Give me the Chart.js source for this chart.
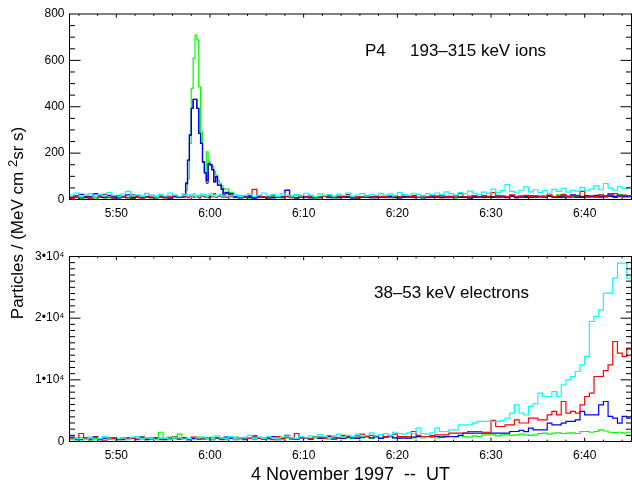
<!DOCTYPE html>
<html>
<head>
<meta charset="utf-8">
<script src="https://cdn.jsdelivr.net/npm/chart.js@4.4.1/dist/chart.umd.min.js"></script>
<style>
  body { margin: 0; background: #fff; width: 632px; height: 487px; position: relative; overflow: hidden;
         font-family: "Liberation Sans", Arial, sans-serif; color: #000; }
  #ionBox { position: absolute; left: 0; top: 0; width: 632px; height: 232px; }
  #elecBox { position: absolute; left: 0; top: 232px; width: 632px; height: 255px; }
  #yTitle { position: absolute; left: -142px; top: 212px; width: 320px; height: 22px; line-height: 22px;
            text-align: center; font-size: 17px; transform: rotate(-90deg); white-space: pre; }
  #yTitle sup { font-size: 13px; vertical-align: 6px; line-height: 0; }
  #xTitle { position: absolute; left: 69.5px; width: 562px; top: 464px; text-align: center;
            font-size: 18px; white-space: pre; }
</style>
</head>
<body>
<div id="ionBox"><canvas id="ionChart" width="632" height="232"></canvas></div>
<div id="elecBox"><canvas id="elecChart" width="632" height="255"></canvas></div>
<div id="yTitle">Particles / (MeV cm <sup>2</sup>sr s)</div>
<div id="xTitle">4 November 1997  --  UT</div>

<script>
// ---- time axis (minutes after 5:00 UT) ----
const timeTicks = [50, 60, 70, 80, 90, 100];
const timeLabels = ["5:50", "6:00", "6:10", "6:20", "6:30", "6:40"];

// ---- P4 ions, 193-315 keV (bin start times, finer bins around the burst) ----
const ionMinutes = [
  45, 45.5, 46, 46.5, 47, 47.5, 48, 48.5, 49, 49.5, 50, 50.5, 51, 51.5, 52, 52.5, 53, 53.5, 54, 54.5,
  55, 55.5, 56, 56.5, 57,
  57.2, 57.4, 57.6, 57.8, 58, 58.2, 58.4, 58.6, 58.8, 59, 59.2, 59.4, 59.6, 59.8, 60, 60.2, 60.4, 60.6,
  60.8, 61, 61.2, 61.4,
  61.6,
  62, 62.5, 63, 63.5, 64, 64.5, 65, 65.5, 66, 66.5, 67,
  67.5, 68, 68.5, 69, 69.5, 70, 70.5, 71, 71.5, 72, 72.5,
  73, 73.5, 74, 74.5, 75, 75.5, 76, 76.5, 77, 77.5, 78,
  78.5, 79, 79.5, 80, 80.5, 81, 81.5, 82, 82.5, 83, 83.5,
  84, 84.5, 85, 85.5, 86, 86.5, 87, 87.5, 88, 88.5, 89,
  89.5, 90, 90.5, 91, 91.5, 92, 92.5, 93, 93.5, 94, 94.5,
  95, 95.5, 96, 96.5, 97, 97.5, 98, 98.5, 99, 99.5, 100,
  100.5, 101, 101.5, 102, 102.5, 103, 103.5, 104, 104.5,
  105
];
const ionTicks = [0, 200, 400, 600, 800];

const ionBlack = [
  6, 10, 8, 12, 5, 9, 11, 7, 10, 6, 8, 12, 9, 5, 10, 7, 11, 8, 6, 10, 9, 7, 12, 8, 10,
  20, 72, 170, 278, 393, 432, 432, 393, 285, 242, 162, 115, 70, 155, 150, 128, 76, 98, 62, 62, 45, 20,
  25,
  20, 10, 7, 9, 12, 6, 8, 11, 7, 10, 9,
  8, 12, 9, 6, 10, 8, 11, 7, 9, 12, 8,
  10, 7, 9, 12, 8, 6, 10, 9, 11, 7, 9,
  8, 11, 9, 7, 10, 12, 8, 9, 6, 10, 11,
  9, 7, 12, 10, 8, 11, 9, 6, 10, 12, 8,
  10, 12, 8, 11, 9, 13, 7, 10, 12, 9, 11,
  11, 9, 13, 10, 12, 8, 14, 11, 9, 12, 10,
  12, 10, 14, 11, 13, 9, 12, 15, 11,
  11
];
const ionBlue = [
  10, 15, 22, 8, 12, 25, 14, 9, 18, 11, 7, 13, 20, 10, 15, 8, 12, 17, 9, 14, 11, 6, 13, 10, 12,
  20, 69, 170, 278, 393, 432, 432, 393, 285, 242, 162, 115, 83, 155, 150, 128, 76, 98, 62, 62, 45, 20,
  30,
  25, 12, 8, 15, 10, 6, 14, 9, 12, 7, 11,
  13, 40, 10, 8, 14, 11, 7, 12, 9, 15, 10,
  8, 11, 14, 9, 6, 12, 10, 16, 8, 13, 10,
  9, 14, 11, 7, 12, 10, 15, 9, 13, 8, 11,
  14, 10, 8, 12, 16, 9, 11, 7, 13, 10, 15,
  11, 9, 14, 12, 8, 16, 10, 13, 9, 15, 11,
  13, 10, 18, 12, 9, 15, 11, 20, 14, 10, 16,
  12, 18, 11, 15, 24, 13, 17, 12, 15,
  15
];
const ionGreen = [
  8, 12, 5, 10, 15, 6, 9, 14, 7, 12, 18, 10, 6, 13, 9, 16, 11, 7, 14, 10, 8, 15, 12, 9, 11,
  12, 40, 90, 242, 479, 609, 709, 688, 486, 292, 162, 115, 205, 162, 150, 143, 120, 105, 83, 70, 59, 47,
  45,
  30, 14, 8, 12, 6, 10, 15, 9, 5, 11, 13,
  8, 12, 16, 7, 10, 14, 9, 6, 12, 18, 10,
  7, 13, 9, 15, 11, 6, 10, 14, 8, 12, 9,
  16, 10, 7, 13, 9, 12, 18, 8, 11, 14, 10,
  12, 9, 15, 11, 7, 14, 10, 16, 9, 13, 11,
  15, 10, 18, 12, 9, 14, 11, 17, 13, 10, 16,
  12, 18, 14, 10, 20, 13, 16, 11, 19, 15, 12,
  17, 14, 20, 12, 18, 15, 22, 16, 14,
  14
];
const ionRed = [
  5, 12, 8, 18, 6, 10, 14, 22, 9, 7, 15, 11, 8, 20, 12, 6, 10, 16, 9, 13, 7, 11, 18, 9, 14,
  10, 14, 8, 12, 18, 9, 15, 11, 7, 13, 16, 10, 12, 8, 14, 11, 25, 9, 13, 16, 10, 12,
  10,
  12, 8, 15, 10, 18, 44, 9, 13, 7, 16, 11,
  10, 14, 8, 20, 12, 9, 16, 11, 7, 13, 18,
  9, 15, 11, 22, 8, 13, 10, 17, 12, 9, 14,
  11, 8, 16, 12, 20, 10, 13, 9, 15, 11, 18,
  12, 16, 10, 14, 9, 25, 13, 11, 17, 10, 15,
  13, 30, 11, 16, 12, 20, 14, 10, 18, 13, 16,
  14, 11, 19, 13, 16, 22, 12, 18, 15, 35, 13,
  16, 12, 20, 14, 18, 25, 15, 19, 17,
  17
];
const ionCyan = [
  20, 28, 12, 18, 25, 10, 22, 15, 30, 18, 12, 24, 35, 16, 20, 13, 26, 18, 11, 22, 15, 28, 19, 14, 25,
  18, 22, 14, 20, 16, 25, 12, 19, 15, 23, 17, 21, 13, 18, 26, 15, 20, 12, 17, 22, 14, 19,
  16,
  15, 20, 12, 18, 24, 14, 19, 28, 16, 22, 13,
  25, 18, 14, 22, 16, 27, 19, 12, 24, 17, 21,
  15, 23, 18, 28, 14, 20, 25, 16, 22, 18, 26,
  19, 24, 16, 30, 21, 18, 27, 22, 15, 25, 20,
  28, 22, 33, 25, 19, 30, 24, 36, 27, 21, 32,
  26, 45, 30, 38, 64, 35, 28, 40, 55, 33, 42,
  30, 38, 27, 44, 35, 48, 32, 40, 36, 52, 38,
  45, 60, 42, 69, 50, 40, 55, 47, 52,
  52
];

// ---- 38-53 keV electrons, 30 s bins ----
const elecMinutes = [
  45, 45.5, 46, 46.5, 47, 47.5, 48, 48.5, 49, 49.5,
  50, 50.5, 51, 51.5, 52, 52.5, 53, 53.5, 54, 54.5,
  55, 55.5, 56, 56.5, 57, 57.5, 58, 58.5, 59, 59.5,
  60, 60.5, 61, 61.5, 62, 62.5, 63, 63.5, 64, 64.5,
  65, 65.5, 66, 66.5, 67, 67.5, 68, 68.5, 69, 69.5,
  70, 70.5, 71, 71.5, 72, 72.5, 73, 73.5, 74, 74.5,
  75, 75.5, 76, 76.5, 77, 77.5, 78, 78.5, 79, 79.5,
  80, 80.5, 81, 81.5, 82, 82.5, 83, 83.5, 84, 84.5,
  85, 85.5, 86, 86.5, 87, 87.5, 88, 88.5, 89, 89.5,
  90, 90.5, 91, 91.5, 92, 92.5, 93, 93.5, 94, 94.5,
  95, 95.5, 96, 96.5, 97, 97.5, 98, 98.5, 99, 99.5,
  100, 100.5, 101, 101.5, 102, 102.5, 103, 103.5, 104, 104.5,
  105
];
const elecTicks = [0, 10000, 20000, 30000];
const elecTickLabels = ["0", "1\u202210\u2074", "2\u202210\u2074", "3\u202210\u2074"];

const elecCyan = [
  300, 500, 200, 400, 700, 300, 500, 800, 400, 300,
  500, 600, 300, 700, 800, 400, 600, 500, 300, 600,
  500, 400, 700, 600, 400, 500, 300, 600, 700, 500,
  400, 900, 600, 500, 800, 400, 600, 700, 1000, 500,
  700, 500, 800, 600, 400, 700, 900, 600, 500, 800,
  600, 900, 700, 1100, 800, 600, 900, 1200, 700, 1000,
  800, 1200, 900, 1000, 1400, 900, 1100, 1300, 1000, 1500,
  1300, 1200, 1400, 1300, 2170, 1300, 1200, 1400, 2170, 1620,
  1620, 1900, 1900, 2710, 2710, 2700, 2980, 3250, 3250, 3250,
  3250, 3250, 3400, 3790, 4600, 5950, 4600, 4300, 5680, 6110,
  7850, 7300, 7300, 8110, 7300, 9200, 10000, 10540, 11350, 12440,
  13790, 19460, 20280, 21360, 24070, 24070, 26500, 28940, 28940, 26500,
  26500
];
const elecRed = [
  400, 300, 1300, 500, 300, 700, 400, 200, 600, 500,
  300, 600, 400, 500, 300, 700, 500, 400, 600, 300,
  500, 400, 800, 600, 500, 300, 700, 500, 400, 600,
  400, 600, 300, 500, 700, 400, 600, 300, 500, 700,
  500, 400, 600, 300, 800, 500, 700, 400, 1300, 600,
  600, 500, 800, 700, 500, 900, 700, 600, 1000, 800,
  700, 900, 1200, 800, 1000, 900, 1100, 800, 1000, 1200,
  800, 800, 810, 1620, 1000, 810, 810, 800, 1080, 1080,
  1080, 1350, 1350, 1350, 1350, 1620, 1620, 1620, 1500, 1500,
  3410, 2430, 2430, 2700, 2700, 3520, 3000, 3000, 3790, 3790,
  3520, 3520, 4330, 4870, 4330, 6490, 4600, 4870, 4600, 5950,
  7300, 7850, 10540, 10540, 11500, 12440, 16220, 14340, 13790, 15150,
  15150
];
const elecBlue = [
  700, 500, 300, 600, 400, 800, 300, 500, 400, 600,
  400, 300, 600, 500, 400, 700, 300, 500, 600, 400,
  300, 500, 800, 400, 600, 300, 500, 400, 600, 500,
  300, 600, 400, 700, 500, 300, 600, 400, 500, 900,
  600, 400, 500, 800, 300, 600, 1000, 500, 400, 600,
  500, 400, 700, 500, 600, 800, 400, 600, 500, 700,
  600, 500, 700, 900, 600, 800, 500, 700, 900, 600,
  540, 540, 540, 700, 810, 810, 810, 900, 810, 700,
  810, 810, 810, 1000, 1350, 1350, 1350, 1350, 1350, 1350,
  1350, 1350, 1350, 1350, 1620, 1620, 1800, 1600, 2170, 1900,
  1900, 1900, 2980, 2710, 2710, 2980, 3250, 3250, 3520, 4870,
  4330, 4330, 4330, 5950, 6490, 4060, 3800, 2980, 4060, 3790,
  3790
];
const elecGreen = [
  500, 300, 600, 400, 200, 500, 300, 600, 400, 500,
  300, 600, 400, 500, 800, 400, 300, 600, 500, 1500,
  400, 700, 500, 1200, 600, 400, 500, 700, 600, 400,
  700, 500, 600, 300, 500, 700, 400, 600, 500, 300,
  500, 600, 400, 700, 500, 300, 600, 500, 400, 700,
  500, 400, 600, 500, 700, 400, 600, 500, 800, 600,
  500, 700, 600, 800, 500, 700, 600, 800, 700, 600,
  600, 700, 500, 600, 700, 600, 800, 700, 600, 800,
  700, 800, 700, 900, 800, 700, 900, 800, 1080, 1080,
  1080, 900, 1080, 1100, 1000, 1080, 1200, 1080, 1000, 1080,
  1300, 1350, 1200, 1350, 1400, 1300, 1350, 1400, 1300, 1620,
  1620, 1500, 1620, 1900, 1700, 1500, 1450, 1500, 1350, 1500,
  1500
];

const FONT = '"Liberation Sans", Arial, Helvetica, sans-serif';

// box frame with inward ticks on all four sides
const boxAxes = {
  id: 'boxAxes',
  afterDatasetsDraw(chart, args, opts) {
    const { ctx, chartArea: a, scales: { x, y } } = chart;
    const xLen = 3.7, yLen = 11;
    ctx.save();
    ctx.strokeStyle = '#000';
    ctx.lineWidth = 1;
    ctx.beginPath();
    for (let m = 46; m < 105; m += 2) {
      const px = x.getPixelForValue(m);
      const len = m % 10 === 0 ? xLen : xLen / 2;
      ctx.moveTo(px, a.bottom); ctx.lineTo(px, a.bottom - len);
      ctx.moveTo(px, a.top); ctx.lineTo(px, a.top + len);
    }
    for (let v = y.min + opts.minor; v < y.max; v += opts.minor) {
      const py = y.getPixelForValue(v);
      const len = v % opts.major === 0 ? yLen : yLen / 2;
      ctx.moveTo(a.left, py); ctx.lineTo(a.left + len, py);
      ctx.moveTo(a.right, py); ctx.lineTo(a.right - len, py);
    }
    ctx.stroke();
    ctx.strokeRect(a.left, a.top, a.right - a.left, a.bottom - a.top);
    ctx.restore();
  }
};

// free text inside a panel
const panelNotes = {
  id: 'panelNotes',
  afterDraw(chart, args, opts) {
    const ctx = chart.ctx;
    ctx.save();
    ctx.fillStyle = '#000';
    ctx.font = '17px ' + FONT;
    ctx.textBaseline = 'alphabetic';
    opts.items.forEach(t => ctx.fillText(t.text, t.x, t.y));
    ctx.restore();
  }
};

function series(times, values, color, width) {
  return {
    data: times.map((t, i) => ({ x: t, y: values[i] })),
    borderColor: color,
    borderWidth: width || 1.2,
    stepped: true,
    pointRadius: 0,
    fill: false
  };
}

function panel(canvasId, datasets, yMax, yTicks, yLabels, pad, axisH, notes, minor, major) {
  return new Chart(document.getElementById(canvasId), {
    type: 'line',
    data: { datasets },
    plugins: [boxAxes, panelNotes],
    options: {
      responsive: false,
      animation: false,
      events: [],
      layout: { padding: { top: pad, right: 0.5, left: 0, bottom: 0 } },
      plugins: {
        legend: { display: false },
        tooltip: { enabled: false },
        boxAxes: { minor, major },
        panelNotes: { items: notes }
      },
      scales: {
        x: {
          type: 'linear', min: 45, max: 105,
          afterBuildTicks: s => { s.ticks = timeTicks.map(v => ({ value: v })); },
          afterFit: s => { s.height = axisH; },
          grid: { display: false, drawTicks: false },
          border: { display: false },
          ticks: {
            autoSkip: false, maxRotation: 0, padding: 7, color: '#000',
            font: { family: FONT, size: 12 },
            callback: (v, i) => timeLabels[i]
          }
        },
        y: {
          min: 0, max: yMax,
          afterBuildTicks: s => { s.ticks = yTicks.map(v => ({ value: v })); },
          afterFit: s => { s.width = 69.5; },
          grid: { display: false, drawTicks: false },
          border: { display: false },
          ticks: {
            autoSkip: false, padding: 5, color: '#000',
            font: { family: FONT, size: 12 },
            callback: (v, i) => yLabels[i]
          }
        }
      }
    }
  });
}

panel('ionChart', [
  series(ionMinutes, ionCyan, '#00ffff'),
  series(ionMinutes, ionRed, '#ff0000'),
  series(ionMinutes, ionBlue, '#0000ff', 1.4),
  series(ionMinutes, ionBlack, '#000000', 0.9),
  series(ionMinutes, ionGreen, '#00ff00')
], 800, ionTicks, ionTicks.map(String), 14, 32.5,
  [{ text: 'P4', x: 365, y: 56 }, { text: '193\u2013315 keV ions', x: 410, y: 56 }], 50, 200);

panel('elecChart', [
  series(elecMinutes, elecCyan, '#00ffff'),
  series(elecMinutes, elecRed, '#ff0000'),
  series(elecMinutes, elecBlue, '#0000ff'),
  series(elecMinutes, elecGreen, '#00ff00')
], 30000, elecTicks, elecTickLabels, 24.5, 45.5,
  [{ text: '38\u201353 keV electrons', x: 374, y: 66 }], 1000, 10000);
</script>
</body>
</html>
